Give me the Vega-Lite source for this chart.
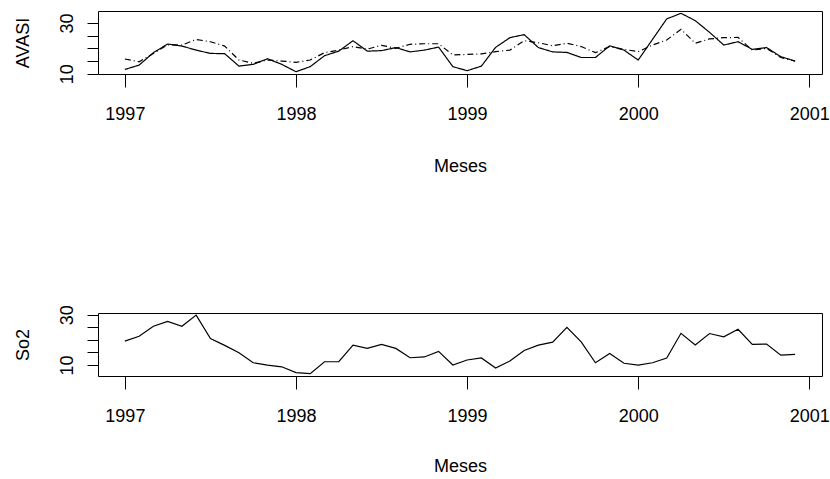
{
  "$schema": "https://vega.github.io/schema/vega-lite/v6.json",
  "background": "white",
  "padding": {"left": 13, "top": 10, "right": 5, "bottom": 5},
  "config": {
    "view": {"stroke": "black", "strokeWidth": 1},
    "font": "Liberation Sans",
    "axis": {"domain": false, "grid": false, "tickColor": "black", "tickWidth": 1, "labelColor": "black", "titleColor": "black", "labelFont": "Liberation Sans", "titleFont": "Liberation Sans", "labelFontSize": 18, "titleFontSize": 18, "titleFontWeight": "normal", "labelFlush": false, "labelOverlap": false}
  },
  "datasets": {
    "avasi": [
      {"t": 1997.0, "s": "obs", "v": 11.7}, {"t": 1997.0833, "s": "obs", "v": 13.4}, {"t": 1997.1667, "s": "obs", "v": 18.3}, {"t": 1997.25, "s": "obs", "v": 21.7}, {"t": 1997.3333, "s": "obs", "v": 20.9}, {"t": 1997.4167, "s": "obs", "v": 19.3}, {"t": 1997.5, "s": "obs", "v": 18.0}, {"t": 1997.5833, "s": "obs", "v": 17.9}, {"t": 1997.6667, "s": "obs", "v": 13.0}, {"t": 1997.75, "s": "obs", "v": 13.7}, {"t": 1997.8333, "s": "obs", "v": 15.9}, {"t": 1997.9167, "s": "obs", "v": 13.7},
      {"t": 1998.0, "s": "obs", "v": 10.8}, {"t": 1998.0833, "s": "obs", "v": 12.8}, {"t": 1998.1667, "s": "obs", "v": 17.1}, {"t": 1998.25, "s": "obs", "v": 18.9}, {"t": 1998.3333, "s": "obs", "v": 23.0}, {"t": 1998.4167, "s": "obs", "v": 18.9}, {"t": 1998.5, "s": "obs", "v": 19.1}, {"t": 1998.5833, "s": "obs", "v": 20.3}, {"t": 1998.6667, "s": "obs", "v": 18.6}, {"t": 1998.75, "s": "obs", "v": 19.3}, {"t": 1998.8333, "s": "obs", "v": 20.5}, {"t": 1998.9167, "s": "obs", "v": 12.8},
      {"t": 1999.0, "s": "obs", "v": 11.2}, {"t": 1999.0833, "s": "obs", "v": 13.0}, {"t": 1999.1667, "s": "obs", "v": 20.4}, {"t": 1999.25, "s": "obs", "v": 24.2}, {"t": 1999.3333, "s": "obs", "v": 25.4}, {"t": 1999.4167, "s": "obs", "v": 20.3}, {"t": 1999.5, "s": "obs", "v": 18.6}, {"t": 1999.5833, "s": "obs", "v": 18.4}, {"t": 1999.6667, "s": "obs", "v": 16.4}, {"t": 1999.75, "s": "obs", "v": 16.4}, {"t": 1999.8333, "s": "obs", "v": 21.0}, {"t": 1999.9167, "s": "obs", "v": 19.3},
      {"t": 2000.0, "s": "obs", "v": 15.4}, {"t": 2000.0833, "s": "obs", "v": 23.5}, {"t": 2000.1667, "s": "obs", "v": 31.6}, {"t": 2000.25, "s": "obs", "v": 33.8}, {"t": 2000.3333, "s": "obs", "v": 30.9}, {"t": 2000.4167, "s": "obs", "v": 26.3}, {"t": 2000.5, "s": "obs", "v": 21.3}, {"t": 2000.5833, "s": "obs", "v": 22.6}, {"t": 2000.6667, "s": "obs", "v": 19.6}, {"t": 2000.75, "s": "obs", "v": 20.3}, {"t": 2000.8333, "s": "obs", "v": 16.7}, {"t": 2000.9167, "s": "obs", "v": 15.0},
      {"t": 1997.0, "s": "fit", "v": 15.8}, {"t": 1997.0833, "s": "fit", "v": 14.7}, {"t": 1997.1667, "s": "fit", "v": 18.0}, {"t": 1997.25, "s": "fit", "v": 21.4}, {"t": 1997.3333, "s": "fit", "v": 21.3}, {"t": 1997.4167, "s": "fit", "v": 23.5}, {"t": 1997.5, "s": "fit", "v": 22.6}, {"t": 1997.5833, "s": "fit", "v": 20.9}, {"t": 1997.6667, "s": "fit", "v": 15.4}, {"t": 1997.75, "s": "fit", "v": 14.1}, {"t": 1997.8333, "s": "fit", "v": 15.4}, {"t": 1997.9167, "s": "fit", "v": 15.0},
      {"t": 1998.0, "s": "fit", "v": 14.5}, {"t": 1998.0833, "s": "fit", "v": 15.4}, {"t": 1998.1667, "s": "fit", "v": 18.3}, {"t": 1998.25, "s": "fit", "v": 19.3}, {"t": 1998.3333, "s": "fit", "v": 20.7}, {"t": 1998.4167, "s": "fit", "v": 19.7}, {"t": 1998.5, "s": "fit", "v": 21.2}, {"t": 1998.5833, "s": "fit", "v": 20.0}, {"t": 1998.6667, "s": "fit", "v": 21.6}, {"t": 1998.75, "s": "fit", "v": 21.8}, {"t": 1998.8333, "s": "fit", "v": 21.8}, {"t": 1998.9167, "s": "fit", "v": 17.4},
      {"t": 1999.0, "s": "fit", "v": 17.6}, {"t": 1999.0833, "s": "fit", "v": 17.8}, {"t": 1999.1667, "s": "fit", "v": 18.7}, {"t": 1999.25, "s": "fit", "v": 19.3}, {"t": 1999.3333, "s": "fit", "v": 23.0}, {"t": 1999.4167, "s": "fit", "v": 22.2}, {"t": 1999.5, "s": "fit", "v": 21.0}, {"t": 1999.5833, "s": "fit", "v": 22.0}, {"t": 1999.6667, "s": "fit", "v": 20.7}, {"t": 1999.75, "s": "fit", "v": 18.3}, {"t": 1999.8333, "s": "fit", "v": 20.7}, {"t": 1999.9167, "s": "fit", "v": 19.6},
      {"t": 2000.0, "s": "fit", "v": 18.7}, {"t": 2000.0833, "s": "fit", "v": 21.3}, {"t": 2000.1667, "s": "fit", "v": 23.3}, {"t": 2000.25, "s": "fit", "v": 27.5}, {"t": 2000.3333, "s": "fit", "v": 22.0}, {"t": 2000.4167, "s": "fit", "v": 23.7}, {"t": 2000.5, "s": "fit", "v": 24.2}, {"t": 2000.5833, "s": "fit", "v": 24.3}, {"t": 2000.6667, "s": "fit", "v": 19.3}, {"t": 2000.75, "s": "fit", "v": 20.0}, {"t": 2000.8333, "s": "fit", "v": 16.4}, {"t": 2000.9167, "s": "fit", "v": 15.0}
    ],
    "so2": [
      {"t": 1997.0, "v": 19.5}, {"t": 1997.0833, "v": 21.4}, {"t": 1997.1667, "v": 25.4}, {"t": 1997.25, "v": 27.3}, {"t": 1997.3333, "v": 25.4}, {"t": 1997.4167, "v": 29.8}, {"t": 1997.5, "v": 20.5}, {"t": 1997.5833, "v": 17.8}, {"t": 1997.6667, "v": 14.9}, {"t": 1997.75, "v": 10.9}, {"t": 1997.8333, "v": 10.0}, {"t": 1997.9167, "v": 9.3},
      {"t": 1998.0, "v": 7.0}, {"t": 1998.0833, "v": 6.6}, {"t": 1998.1667, "v": 11.3}, {"t": 1998.25, "v": 11.3}, {"t": 1998.3333, "v": 17.9}, {"t": 1998.4167, "v": 16.6}, {"t": 1998.5, "v": 18.2}, {"t": 1998.5833, "v": 16.6}, {"t": 1998.6667, "v": 12.9}, {"t": 1998.75, "v": 13.2}, {"t": 1998.8333, "v": 15.4}, {"t": 1998.9167, "v": 10.0},
      {"t": 1999.0, "v": 12.0}, {"t": 1999.0833, "v": 12.8}, {"t": 1999.1667, "v": 8.8}, {"t": 1999.25, "v": 11.6}, {"t": 1999.3333, "v": 15.8}, {"t": 1999.4167, "v": 17.9}, {"t": 1999.5, "v": 19.1}, {"t": 1999.5833, "v": 25.0}, {"t": 1999.6667, "v": 19.2}, {"t": 1999.75, "v": 10.9}, {"t": 1999.8333, "v": 14.6}, {"t": 1999.9167, "v": 10.7},
      {"t": 2000.0, "v": 10.0}, {"t": 2000.0833, "v": 10.9}, {"t": 2000.1667, "v": 12.8}, {"t": 2000.25, "v": 22.6}, {"t": 2000.3333, "v": 18.0}, {"t": 2000.4167, "v": 22.5}, {"t": 2000.5, "v": 21.2}, {"t": 2000.5833, "v": 24.2}, {"t": 2000.6667, "v": 18.2}, {"t": 2000.75, "v": 18.3}, {"t": 2000.8333, "v": 13.9}, {"t": 2000.9167, "v": 14.2}
    ]
  },
  "spacing": 128,
  "vconcat": [
    {
      "width": 724,
      "height": 63,
      "data": {"name": "avasi"},
      "mark": {"type": "line", "color": "black", "strokeWidth": 1.2},
      "encoding": {
        "x": {"field": "t", "type": "quantitative", "scale": {"domain": [1996.843, 2001.074], "nice": false, "zero": false}, "axis": {"values": [1997, 1998, 1999, 2000, 2001], "format": "d", "title": "Meses", "tickSize": 13, "labelPadding": 18, "titlePadding": 34}},
        "y": {"field": "v", "type": "quantitative", "scale": {"domain": [9.9, 34.7], "nice": false, "zero": false}, "axis": {"values": [10, 15, 20, 25, 30], "labelExpr": "datum.value == 10 || datum.value == 30 ? datum.label : ''", "labelAngle": -90, "tickSize": 11, "labelPadding": 11, "title": "AVASI", "titlePadding": 26}},
        "strokeDash": {"field": "s", "type": "nominal", "scale": {"domain": ["obs", "fit"], "range": [[1, 0], [6, 3, 1, 3]]}, "legend": null}
      }
    },
    {
      "width": 724,
      "height": 63,
      "data": {"name": "so2"},
      "mark": {"type": "line", "color": "black", "strokeWidth": 1.2},
      "encoding": {
        "x": {"field": "t", "type": "quantitative", "scale": {"domain": [1996.843, 2001.074], "nice": false, "zero": false}, "axis": {"values": [1997, 1998, 1999, 2000, 2001], "format": "d", "title": "Meses", "tickSize": 13, "labelPadding": 18, "titlePadding": 32}},
        "y": {"field": "v", "type": "quantitative", "scale": {"domain": [5.65, 30.65], "nice": false, "zero": false}, "axis": {"values": [10, 15, 20, 25, 30], "labelExpr": "datum.value == 10 || datum.value == 30 ? datum.label : ''", "labelAngle": -90, "tickSize": 11, "labelPadding": 11, "title": "So2", "titlePadding": 26}}
      }
    }
  ]
}
